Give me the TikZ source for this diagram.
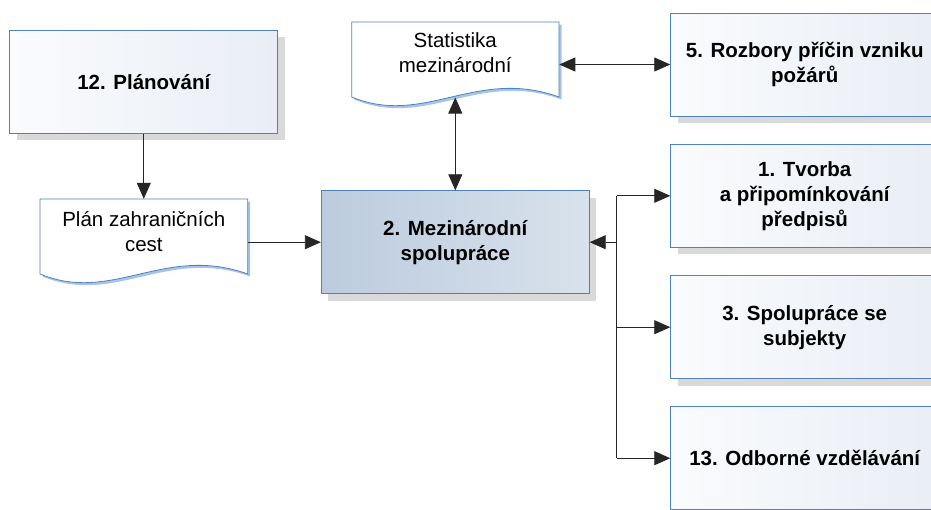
\documentclass[tikz,border=0pt]{standalone}
\usepackage{fontspec}
\setmainfont{Liberation Sans}
\usetikzlibrary{shadows,arrows.meta}
\definecolor{boxline}{RGB}{79,129,189}
\definecolor{boxleft}{RGB}{250,251,253}
\definecolor{boxright}{RGB}{233,238,245}
\definecolor{mainleft}{RGB}{188,203,222}
\definecolor{mainright}{RGB}{216,226,236}
\definecolor{shadowgray}{RGB}{217,217,217}
\definecolor{docglow}{RGB}{166,195,234}
\begin{document}
\begin{tikzpicture}[x=1pt,y=-1pt,
  every node/.style={inner sep=0pt,font=\fontsize{20.5}{25}\selectfont,align=center},
  procbox/.style={draw=boxline,line width=0.8pt,minimum width=268pt,minimum height=103pt,
    left color=boxleft,right color=boxright,font=\fontsize{20.5}{25}\selectfont\bfseries,
    drop shadow={shadow xshift=7pt,shadow yshift=-7pt,fill=shadowgray,opacity=1}},
  mainbox/.style={procbox,left color=mainleft,right color=mainright},
  doctext/.style={minimum width=207.5pt},
  docshape/.style={fill=white,draw=boxline,line width=0.8pt},
  link/.style={draw=black!85,line width=0.8pt,-{Triangle[length=16pt,width=14pt]}},
  twolink/.style={link,{Triangle[length=16pt,width=14pt]}-{Triangle[length=16pt,width=14pt]}}]
\useasboundingbox (0,0) rectangle (931,509);
\clip (0,0) rectangle (931,509);
\fill [docglow,shift={(2.5,2.5)}] (40,199) -- (247.7,199) -- (247.7,274) .. controls (164.6,244) and (112.7,304) .. (40,274) -- cycle;
\draw [docshape] (40,199) -- (247.7,199) -- (247.7,274) .. controls (164.6,244) and (112.7,304) .. (40,274) -- cycle;
\fill [docglow,shift={(2.5,2.5)}] (351.7,22) -- (559,22) -- (559,97) .. controls (476.1,67) and (424.3,127) .. (351.7,97) -- cycle;
\draw [docshape] (351.7,22) -- (559,22) -- (559,97) .. controls (476.1,67) and (424.3,127) .. (351.7,97) -- cycle;
\node [procbox] (plan) at (143.8,81.8) {12. Plánování};
\node [mainbox] (mez) at (455.3,242.2) {2. Mezinárodní\\spolupráce};
\node [procbox] (rozbory) at (804.7,64.5) {5. Rozbory příčin vzniku\\požárů};
\node [procbox] (tvorba) at (804.7,195.8) {1. Tvorba\\a připomínkování\\předpisů};
\node [procbox] (subjekty) at (804.7,327.2) {3. Spolupráce se\\subjekty};
\node [procbox] (vzdelavani) at (804.7,458.2) {13. Odborné vzdělávání};
\node [doctext,minimum height=65pt] (cesty) at (143.8,231.5) {Plán zahraničních\\cest};
\node [doctext,minimum height=62pt] (stat) at (455.3,53) {Statistika\\mezinárodní};
\coordinate (statbot) at (455.3,97.5);
\coordinate (bus) at (616.7,242.2);
\draw [link] (plan) -- (cesty);
\draw [link] (cesty.east |- mez.west) -- (mez.west);
\draw [twolink] (statbot) -- (mez.north);
\draw [twolink] (stat.east |- rozbory.west) -- (rozbory.west);
\draw [link] (bus) -- (mez.east);
\draw [draw=black!85,line width=0.8pt] (bus |- tvorba.west) -- (bus |- vzdelavani.west);
\draw [link] (bus |- tvorba.west) -- (tvorba.west);
\draw [link] (bus |- subjekty.west) -- (subjekty.west);
\draw [link] (bus |- vzdelavani.west) -- (vzdelavani.west);
\end{tikzpicture}
\end{document}
